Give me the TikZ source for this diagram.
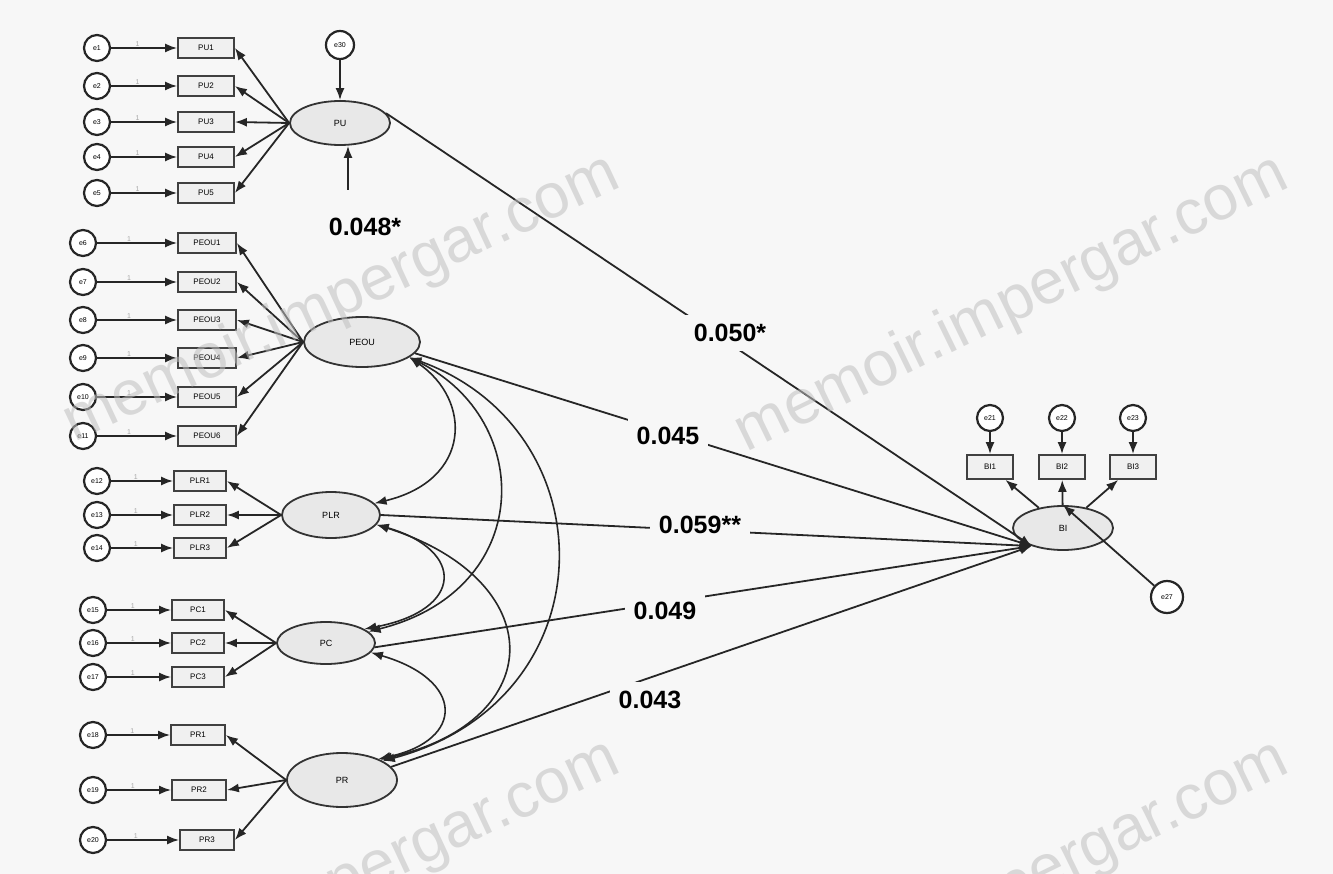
\documentclass[tikz,border=0pt]{standalone}
\usepackage{fontspec}
\setmainfont{Liberation Sans}
\usetikzlibrary{shapes.geometric,arrows.meta}
\definecolor{bg}{HTML}{F7F7F7}
\begin{document}
\begin{tikzpicture}[x=1pt,y=-1pt,
  err/.style={circle,draw=black!85,line width=2.2pt,fill=white,minimum size=26pt,inner sep=0pt,font=\fontsize{7}{7}\selectfont},
  ind/.style={rectangle,draw=black!75,line width=1.8pt,fill=gray!12,minimum width=54pt,minimum height=20pt,inner sep=1pt,font=\fontsize{8}{8}\selectfont},
  lat/.style={ellipse,draw=black!80,line width=1.8pt,fill=gray!18,inner sep=0pt,font=\fontsize{9}{9}\selectfont},
  pth/.style={line width=1.8pt,draw=black!85,-{Latex[length=12pt,width=9pt]}},
  cov/.style={line width=1.6pt,draw=black!85,{Latex[length=12pt,width=9pt]}-{Latex[length=12pt,width=9pt]}},
  coef/.style={fill=bg,inner sep=9pt,font=\bfseries\fontsize{25}{25}\selectfont},
  one/.style={font=\fontsize{7}{7}\selectfont,text=gray!70,inner sep=1pt},
  wm/.style={text=gray!50,opacity=.55,font=\fontsize{63}{63}\selectfont}]
\fill[bg] (0,0) rectangle (1333,874);
\useasboundingbox (0,0) rectangle (1333,874);

% latent variables
\node[lat,minimum width=100pt,minimum height=44pt] (PU) at (340,123) {PU};
\node[lat,minimum width=116pt,minimum height=50pt] (PEOU) at (362,342) {PEOU};
\node[lat,minimum width=98pt,minimum height=46pt] (PLR) at (331,515) {PLR};
\node[lat,minimum width=98pt,minimum height=42pt] (PC) at (326,643) {PC};
\node[lat,minimum width=110pt,minimum height=54pt] (PR) at (342,780) {PR};
\node[lat,minimum width=100pt,minimum height=44pt] (BI) at (1063,528) {BI};

% PU block
\foreach \i/\y in {1/48,2/86,3/122,4/157,5/193}{
  \node[err] (e\i) at (97,\y) {e\i};
  \node[ind,minimum width=56pt] (pu\i) at (206,\y) {PU\i};
  \draw[pth] (e\i) -- node[one,above,pos=.4]{1} (pu\i);
  \draw[pth] (PU.west) -- (pu\i.east);
}
\node[err,minimum size=28pt] (e30) at (340,45) {e30};
\draw[pth] (e30) -- (PU);
\coordinate (u0) at (348,190);
\draw[pth] (u0) -- (u0 |- PU.south);
\node[coef,inner sep=2pt] (c0) at (365,227) {0.048*};

% PEOU block
\foreach \i/\y in {1/243,2/282,3/320,4/358,5/397,6/436}{
  \pgfmathtruncatemacro\k{\i+5}
  \node[err] (e\k) at (83,\y) {e\k};
  \node[ind,minimum width=58pt] (peou\i) at (207,\y) {PEOU\i};
  \draw[pth] (e\k) -- node[one,above,pos=.4]{1} (peou\i);
  \draw[pth] (PEOU.west) -- (peou\i.east);
}

% PLR block
\foreach \i/\y in {1/481,2/515,3/548}{
  \pgfmathtruncatemacro\k{\i+11}
  \node[err] (e\k) at (97,\y) {e\k};
  \node[ind,minimum width=52pt] (plr\i) at (200,\y) {PLR\i};
  \draw[pth] (e\k) -- node[one,above,pos=.4]{1} (plr\i);
  \draw[pth] (PLR.west) -- (plr\i.east);
}

% PC block
\foreach \i/\y in {1/610,2/643,3/677}{
  \pgfmathtruncatemacro\k{\i+14}
  \node[err] (e\k) at (93,\y) {e\k};
  \node[ind,minimum width=52pt] (pc\i) at (198,\y) {PC\i};
  \draw[pth] (e\k) -- node[one,above,pos=.4]{1} (pc\i);
  \draw[pth] (PC.west) -- (pc\i.east);
}

% PR block
\foreach \i/\y/\x in {1/735/198,2/790/199,3/840/207}{
  \pgfmathtruncatemacro\k{\i+17}
  \node[err] (e\k) at (93,\y) {e\k};
  \node[ind,minimum width=54pt] (pr\i) at (\x,\y) {PR\i};
  \draw[pth] (e\k) -- node[one,above,pos=.4]{1} (pr\i);
  \draw[pth] (PR.west) -- (pr\i.east);
}

% BI block
\foreach \i/\x in {1/990,2/1062,3/1133}{
  \pgfmathtruncatemacro\k{\i+20}
  \node[err] (e\k) at (\x,418) {e\k};
  \node[ind,minimum width=46pt,minimum height=24pt] (bi\i) at (\x,467) {BI\i};
  \draw[pth] (e\k) -- (bi\i);
  \draw[pth] (BI) -- (bi\i);
}
\node[err,minimum size=32pt] (e27) at (1167,597) {e27};
\draw[pth] (e27) -- (BI.north);

% covariances
\draw[cov] (PEOU.-18) .. controls (472,400) and (472,480) .. (PLR.15);
\draw[cov] (PEOU.-18) .. controls (535,420) and (535,590) .. (PC.15);
\draw[cov] (PEOU.-18) .. controls (610,430) and (610,700) .. (PR.25);
\draw[cov] (PLR.-12) .. controls (465,550) and (465,610) .. (PC.20);
\draw[cov] (PLR.-12) .. controls (550,580) and (550,720) .. (PR.28);
\draw[cov] (PC.-12) .. controls (465,680) and (465,740) .. (PR.30);

% structural paths
\draw[pth] (PU.12) -- (BI.210);
\draw[pth] (PEOU.-12) -- (BI.210);
\draw[pth] (PLR.east) -- (BI.210);
\draw[pth] (PC.-5) -- (BI.210);
\draw[pth] (PR.15) -- (BI.210);

% path coefficients
\node[coef] (c1) at (730,333) {0.050*};
\node[coef] (c2) at (668,436) {0.045};
\node[coef] (c3) at (700,525) {0.059**};
\node[coef] (c4) at (665,611) {0.049};
\node[coef] (c5) at (650,700) {0.043};

% watermark
\node[wm,rotate=25] (w1) at (342,300) {memoir.impergar.com};
\node[wm,rotate=26] (w2) at (1012,305) {memoir.impergar.com};
\node[wm,rotate=25] (w3) at (342,885) {memoir.impergar.com};
\node[wm,rotate=26] (w4) at (1012,890) {memoir.impergar.com};
\end{tikzpicture}
\end{document}
